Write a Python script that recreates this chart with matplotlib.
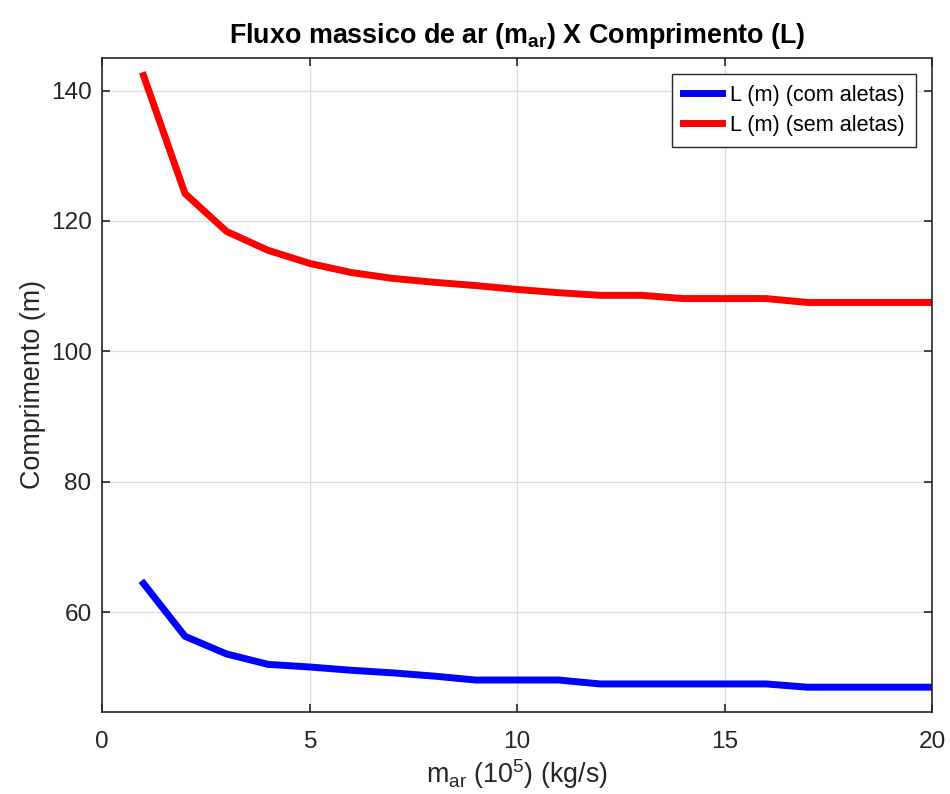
import numpy as np
import matplotlib
matplotlib.use("Agg")
import matplotlib.pyplot as plt

plt.rcParams['font.family'] = ['Liberation Sans', 'DejaVu Sans']
plt.rcParams['mathtext.fontset'] = 'custom'
plt.rcParams['mathtext.rm'] = 'Liberation Sans'
plt.rcParams['mathtext.bf'] = 'Liberation Sans:bold'

# fluxo massico de ar (10^5 kg/s)
m_ar = [1, 2, 3, 4, 5, 6, 7, 8, 9, 10, 11, 12, 13, 14, 15, 16, 17, 18, 19, 20]
# comprimento com aletas (m)
L_com = [64.4, 56.3, 53.6, 52.0, 51.6, 51.1, 50.7, 50.2, 49.6, 49.6,
         49.6, 49.0, 49.0, 49.0, 49.0, 49.0, 48.5, 48.5, 48.5, 48.5]
# comprimento sem aletas (m)
L_sem = [142.3, 124.2, 118.4, 115.5, 113.5, 112.1, 111.2, 110.6, 110.1, 109.5,
         109.0, 108.6, 108.6, 108.1, 108.1, 108.1, 107.5, 107.5, 107.5, 107.5]

fig = plt.figure(figsize=(9.5, 7.94), dpi=100)
ax = fig.add_axes([0.1074, 0.1033, 0.8737, 0.8237])

ax.plot(m_ar, L_com, color='#0000ff', lw=5, label='L (m) (com aletas)')
ax.plot(m_ar, L_sem, color='#ff0000', lw=5, label='L (m) (sem aletas)')

ax.set_xlim(0, 20)
ax.set_ylim(44.7, 145)
ax.set_xticks([0, 5, 10, 15, 20])
ax.set_yticks([60, 80, 100, 120, 140])
ax.grid(True, color='#dcdcdc', lw=0.9)
ax.tick_params(direction='in', top=True, right=True, length=6, width=1.2,
               labelsize=17.6, labelcolor='#262626', colors='#262626')
ax.tick_params(axis='x', pad=14)
ax.tick_params(axis='y', pad=7.5)
for s in ax.spines.values():
    s.set_color('#262626')
    s.set_linewidth(1.2)

ax.set_xlabel('m$_{\\mathrm{ar}}$ (10$^5$) (kg/s)', fontsize=19.4, color='#262626', labelpad=3)
ax.set_ylabel('Comprimento (m)', fontsize=19.4, color='#262626', labelpad=3.5)
ax.set_title('Fluxo massico de ar (m$_{\\mathbf{ar}}$) X Comprimento (L)',
             fontsize=19.4, fontweight='bold', pad=11)

leg = ax.legend(loc='upper right', fontsize=15.6, fancybox=False, framealpha=1,
                edgecolor='#262626', handlelength=1.8, borderpad=0.5,
                labelspacing=0.4, handletextpad=0.4, borderaxespad=0.75)
leg.get_frame().set_linewidth(1.0)

fig.savefig('out.png', dpi=100)
